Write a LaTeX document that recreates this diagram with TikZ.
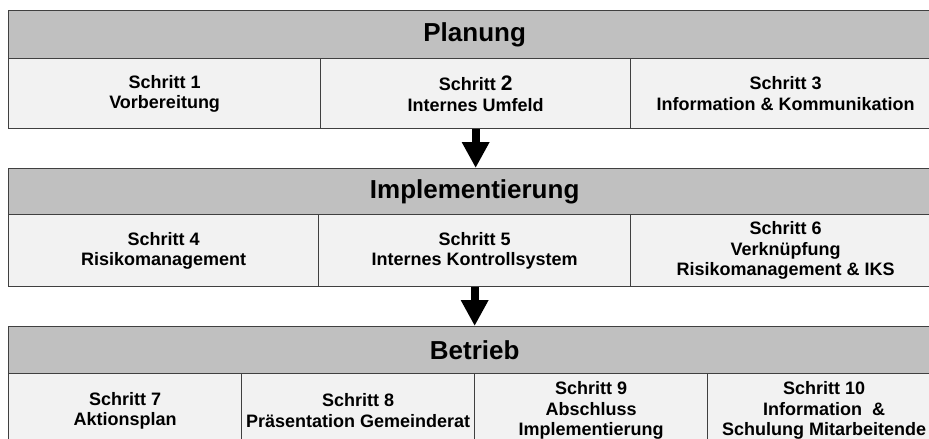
\documentclass[tikz,border=0pt]{standalone}
\usepackage{fontspec}
\setmainfont{Liberation Sans}
\usetikzlibrary{arrows.meta}
\definecolor{hdr}{HTML}{C0C0C0}
\definecolor{cellfill}{HTML}{F2F2F2}
\definecolor{edge}{HTML}{404040}
\begin{document}
\begin{tikzpicture}[x=1pt,y=-1pt,
  hdrbox/.style={draw=edge, line width=1.3pt, fill=hdr, minimum width=932pt, anchor=north west, inner sep=0pt, font=\bfseries\fontsize{26}{30}\selectfont},
  cellbox/.style={draw=edge, line width=1.3pt, fill=cellfill, anchor=north west, inner sep=0pt, align=center, font=\bfseries\fontsize{18}{20.5}\selectfont},
  flow/.style={line width=8pt, black, -{Triangle[width=26pt,length=26pt]}}]
\useasboundingbox (0,0) rectangle (929,439);
\clip (0,0) rectangle (929,439);

% Planung
\node[hdrbox, minimum height=48pt] (h1) at (8,10) {Planung};
\node[cellbox, minimum width=312pt, minimum height=70pt] (c1) at (8,58) {Schritt 1\\Vorbereitung};
\node[cellbox, minimum width=310pt, minimum height=70pt] (c2) at (320,58) {Schritt {\fontsize{21}{20.5}\selectfont 2}\\Internes Umfeld};
\node[cellbox, minimum width=310pt, minimum height=70pt] (c3) at (630,58) {Schritt 3\\Information \& Kommunikation};

% Implementierung
\node[hdrbox, minimum height=46pt] (h2) at (8,168) {Implementierung};
\node[cellbox, minimum width=310pt, minimum height=72pt] (m1) at (8,214) {Schritt 4\\Risikomanagement};
\node[cellbox, minimum width=312pt, minimum height=72pt] (m2) at (318,214) {Schritt 5\\Internes Kontrollsystem};
\node[cellbox, minimum width=310pt, minimum height=72pt] (m3) at (630,214) {Schritt 6\\Verknüpfung\\Risikomanagement \& IKS};

% Betrieb
\node[hdrbox, minimum height=47pt] (h3) at (8,326) {Betrieb};
\node[cellbox, minimum width=233pt, minimum height=74pt] (b1) at (8,373) {Schritt 7\\Aktionsplan};
\node[cellbox, minimum width=233pt, minimum height=74pt] (b2) at (241,373) {Schritt 8\\Präsentation Gemeinderat};
\node[cellbox, minimum width=233pt, minimum height=74pt] (b3) at (474,373) {Schritt 9\\Abschluss\\Implementierung};
\node[cellbox, minimum width=233pt, minimum height=74pt] (b4) at (707,373) {Schritt 10\\Information~~\&\\Schulung Mitarbeitende};

% Arrows
\draw[flow] (c2.south) -- (c2.south |- h2.north);
\draw[flow] (m2.south) -- (m2.south |- h3.north);
\end{tikzpicture}
\end{document}
